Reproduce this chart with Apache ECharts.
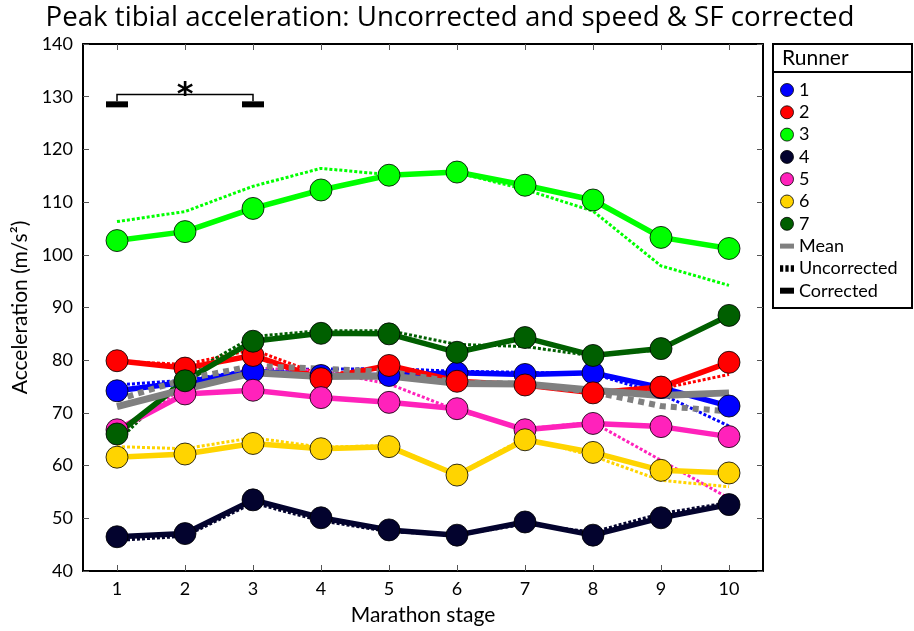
<!DOCTYPE html>
<html>
<head>
<meta charset="utf-8">
<script src="https://cdn.jsdelivr.net/npm/echarts@6/dist/echarts.min.js"></script>
<style>
    html, body { margin: 0; padding: 0; background: #fff; }
    #chart { width: 914px; height: 631px; }
</style>
</head>
<body>
<div id="chart"></div>
<script>
const stages = ['1', '2', '3', '4', '5', '6', '7', '8', '9', '10']
const runnerNames = ['1', '2', '3', '4', '5', '6', '7']
const runnerColors = ['#0000ff', '#ff0000', '#00ff00', '#03032e', '#ff22bb', '#ffd400', '#005f00']

// speed & SF corrected
const corrected1 = [74.2, 75.8, 77.9, 77.1, 77.1, 77.6, 77.3, 77.6, 74.8, 71.3]
const corrected2 = [79.9, 78.5, 80.9, 76.5, 79.0, 76.0, 75.3, 73.8, 74.9, 79.6]
const corrected3 = [102.7, 104.4, 108.8, 112.3, 115.1, 115.7, 113.2, 110.4, 103.3, 101.2]
const corrected4 = [46.5, 47.1, 53.5, 50.1, 47.8, 46.8, 49.3, 46.8, 50.1, 52.6]
const corrected5 = [66.8, 73.6, 74.3, 72.9, 72.0, 70.8, 66.8, 68.0, 67.4, 65.5]
const corrected6 = [61.6, 62.2, 64.2, 63.2, 63.6, 58.2, 64.9, 62.5, 59.1, 58.6]
const corrected7 = [66.0, 76.1, 83.6, 85.1, 85.0, 81.5, 84.3, 80.9, 82.2, 88.5]

// uncorrected
const uncorrected1 = [75.3, 76.2, 78.2, 78.3, 78.4, 77.9, 77.7, 77.4, 73.6, 67.5]
const uncorrected2 = [79.8, 79.2, 82.0, 77.2, 78.6, 76.0, 75.1, 74.0, 74.6, 77.3]
const uncorrected3 = [106.3, 108.2, 113.0, 116.4, 115.2, 115.6, 112.4, 108.3, 97.9, 94.2]
const uncorrected4 = [45.8, 46.6, 52.9, 49.5, 47.5, 46.8, 48.9, 47.4, 50.9, 53.0]
const uncorrected5 = [66.3, 75.0, 78.5, 78.0, 75.5, 70.5, 67.0, 68.2, 61.0, 53.8]
const uncorrected6 = [63.6, 63.2, 65.3, 63.5, 63.8, 58.3, 65.3, 61.8, 57.2, 56.0]
const uncorrected7 = [64.5, 77.0, 84.5, 85.6, 85.6, 83.0, 82.6, 80.8, 82.0, 88.6]

const meanCorrected = [71.2, 74.5, 77.6, 76.9, 77.0, 75.6, 75.5, 74.3, 73.3, 73.8]
const meanUncorrected = [72.5, 76.4, 78.9, 78.4, 77.8, 75.8, 75.5, 74.0, 71.3, 70.3]

const correctedAll = [corrected1, corrected2, corrected3, corrected4, corrected5, corrected6, corrected7]
const uncorrectedAll = [uncorrected1, uncorrected2, uncorrected3, uncorrected4, uncorrected5, uncorrected6, uncorrected7]

// significance bracket between stage 1 and 3
const sigFrom = 0
const sigTo = 2
const sigLineY = 130.4
const sigBarY = 128.55

const FONT = 'Lato'
const chart = echarts.init(document.getElementById('chart'))

const series = []

runnerNames.forEach((name, i) => {
    series.push({
        name,
        type: 'scatter',
        data: correctedAll[i],
        symbol: 'circle',
        symbolSize: 22,
        z: 6,
        itemStyle: { color: runnerColors[i], borderColor: '#000', borderWidth: 0.8, opacity: 1 },
        emphasis: { disabled: true },
    })
    series.push({
        name,
        type: 'line',
        data: uncorrectedAll[i],
        symbol: 'none',
        z: 2,
        lineStyle: { color: runnerColors[i], width: 3, type: [3, 2], cap: 'butt' },
    })
    series.push({
        name,
        type: 'line',
        data: correctedAll[i],
        symbol: 'none',
        z: 3,
        lineStyle: { color: runnerColors[i], width: 5.5 },
    })
})

series.push({
    name: 'Mean',
    type: 'line',
    data: meanUncorrected,
    symbol: 'none',
    z: 4,
    lineStyle: { color: '#808080', width: 6, type: [6, 5], cap: 'butt' },
})
series.push({
    name: 'Mean',
    type: 'line',
    data: meanCorrected,
    symbol: 'none',
    z: 4,
    lineStyle: { color: '#808080', width: 7 },
})
series.push({ name: 'Uncorrected', type: 'line', data: [] })
series.push({ name: 'Corrected', type: 'line', data: [] })

series.push({
    type: 'custom',
    z: 7,
    silent: true,
    data: [[sigFrom, sigLineY]],
    renderItem: (params, api) => {
        const a = api.coord([sigFrom, sigLineY])
        const b = api.coord([sigTo, sigLineY])
        const a2 = api.coord([sigFrom, sigBarY])
        const b2 = api.coord([sigTo, sigBarY])
        const barW = 22
        const barH = 6
        return {
            type: 'group',
            children: [
                {
                    type: 'polyline',
                    shape: { points: [[a2[0], a2[1] - barH / 2], a, b, [b2[0], b2[1] - barH / 2]] },
                    style: { stroke: '#000', lineWidth: 1.5, fill: null },
                },
                { type: 'rect', shape: { x: a2[0] - barW / 2, y: a2[1] - barH / 2, width: barW, height: barH }, style: { fill: '#000' } },
                { type: 'rect', shape: { x: b2[0] - barW / 2, y: b2[1] - barH / 2, width: barW, height: barH }, style: { fill: '#000' } },
                {
                    type: 'text',
                    style: {
                        text: '*', x: (a[0] + b[0]) / 2, y: a[1] + 1,
                        align: 'center', verticalAlign: 'middle',
                        font: 'bold 32px "DejaVu Sans"', fill: '#000',
                    },
                },
            ],
        }
    },
})

const legendData = runnerNames.map((name, i) => ({
    name,
    icon: 'circle',
    itemStyle: { color: runnerColors[i], borderColor: '#000', borderWidth: 0.8 },
}))
legendData.push({ name: 'Mean', icon: 'path://M0,0h14v5h-14z', itemStyle: { color: '#808080', borderWidth: 0 } })
legendData.push({ name: 'Uncorrected', icon: 'path://M0,0h3v6h-3zM5,0h3v6h-3zM10,0h3v6h-3z', itemStyle: { color: '#000', borderWidth: 0 } })
legendData.push({ name: 'Corrected', icon: 'path://M0,0h14v6h-14z', itemStyle: { color: '#000', borderWidth: 0 } })

const axisTick = { show: true, inside: true, length: 6, lineStyle: { color: '#555', width: 1 } }
const axisLine = { show: true, lineStyle: { color: '#000', width: 2 } }

chart.setOption({
    animation: false,
    backgroundColor: '#fff',
    title: {
        text: 'Peak tibial acceleration: Uncorrected and speed & SF corrected',
        left: 445,
        textAlign: 'center',
        top: -1,
        textStyle: { fontFamily: 'Open Sans', fontSize: 27.7, fontWeight: 'normal', color: '#000' },
    },
    grid: { left: 83, top: 44, right: 151, bottom: 59 },
    legend: {
        data: legendData,
        orient: 'vertical',
        left: 780,
        top: 81,
        itemWidth: 14,
        itemHeight: 13,
        itemGap: 4.3,
        padding: 0,
        selectedMode: false,
        textStyle: { fontFamily: FONT, fontSize: 18, color: '#000' },
    },
    graphic: [
        { type: 'rect', z: -1, shape: { x: 773, y: 44, width: 139, height: 264 }, style: { fill: '#fff', stroke: '#000', lineWidth: 2 } },
        { type: 'line', shape: { x1: 773, y1: 72, x2: 912, y2: 72 }, style: { stroke: '#000', lineWidth: 2 } },
        { type: 'text', style: { text: 'Runner', x: 782, y: 58, verticalAlign: 'middle', font: '21px ' + FONT, fill: '#000' } },
    ],
    xAxis: [
        {
            type: 'category',
            data: stages,
            boundaryGap: true,
            position: 'bottom',
            name: 'Marathon stage',
            nameLocation: 'middle',
            nameGap: 34,
            nameTextStyle: { fontFamily: FONT, fontSize: 21, color: '#000' },
            axisLine,
            axisTick: { ...axisTick, alignWithLabel: true },
            axisLabel: { fontFamily: FONT, fontSize: 18, color: '#000', margin: 9 },
            splitLine: { show: false },
        },
        {
            type: 'category',
            data: stages,
            boundaryGap: true,
            position: 'top',
            axisLine,
            axisTick: { ...axisTick, alignWithLabel: true },
            axisLabel: { show: false },
            splitLine: { show: false },
        },
    ],
    yAxis: [
        {
            type: 'value',
            min: 40,
            max: 140,
            interval: 10,
            position: 'left',
            name: 'Acceleration (m/s²)',
            nameLocation: 'middle',
            nameGap: 50,
            nameTextStyle: { fontFamily: FONT, fontSize: 21, color: '#000' },
            axisLine,
            axisTick,
            axisLabel: { fontFamily: FONT, fontSize: 18, color: '#000', margin: 10 },
            splitLine: { show: false },
        },
        {
            type: 'value',
            min: 40,
            max: 140,
            interval: 10,
            position: 'right',
            axisLine,
            axisTick,
            axisLabel: { show: false },
            splitLine: { show: false },
        },
    ],
    series,
})
</script>
</body>
</html>
